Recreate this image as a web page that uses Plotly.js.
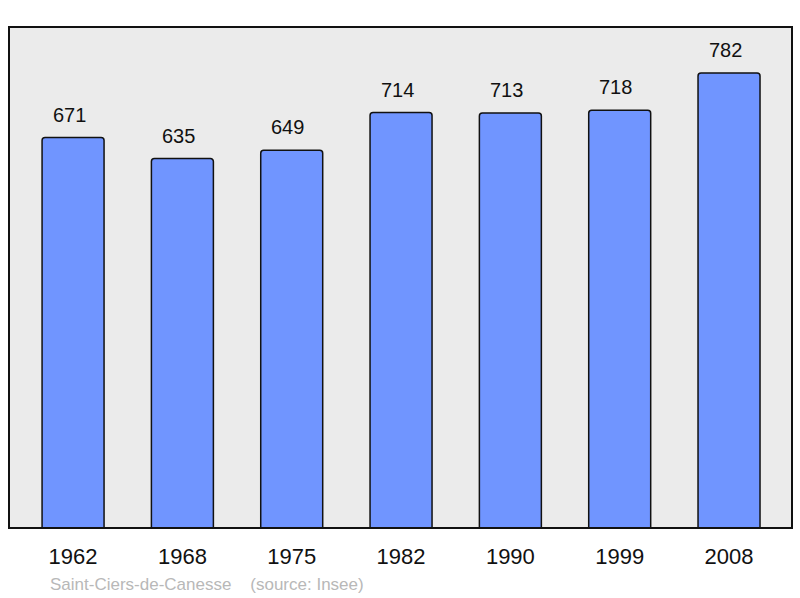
<!DOCTYPE html>
<html><head><meta charset="utf-8">
<script src="https://cdn.plot.ly/plotly-3.0.1.min.js"></script>
<style>html,body{margin:0;padding:0;background:#fff;}#c{width:800px;height:598px;}</style>
</head><body><div id="c"></div>
<script>
const years = ['1962','1968','1975','1982','1990','1999','2008'];
const population = [671, 635, 649, 714, 713, 718, 782];
const footer = 'Saint-Ciers-de-Canesse    (source: Insee)';

const trace = {
  type: 'bar', x: years, y: population, width: 0.567,
  text: population.map(String), textposition: 'none',
  marker: {color: '#7095ff', line: {color: '#111', width: 1.5}, cornerradius: 3},
  hoverinfo: 'none'
};
const annotations = years.map((yr, i) => ({
  x: i, y: population[i], xref: 'x', yref: 'y', text: String(population[i]),
  showarrow: false, yanchor: 'bottom', yshift: 10, xshift: -4,
  font: {family: 'Liberation Sans, Arial, sans-serif', size: 20, color: '#111'}
}));
annotations.push({
  xref: 'paper', yref: 'paper', x: 0.05, y: -0.112, xanchor: 'left', yanchor: 'middle',
  text: footer.replace(/ /g, '&nbsp;'), showarrow: false,
  font: {family: 'Liberation Sans, Arial, sans-serif', size: 17, color: '#b8b8b8'}
});
const layout = {
  width: 800, height: 598,
  margin: {l: 9, r: 8, t: 27, b: 70},
  paper_bgcolor: '#fff', plot_bgcolor: '#ebebeb',
  showlegend: false,
  xaxis: {type: 'category', range: [-0.586, 6.576], showgrid: false, zeroline: false,
    showline: false, ticks: '', ticklabelstandoff: 13,
    tickfont: {family: 'Liberation Sans, Arial, sans-serif', size: 22, color: '#111'}},
  yaxis: {range: [0, 861], showgrid: false, zeroline: false, showticklabels: false, showline: false},
  shapes: [{type: 'rect', xref: 'paper', yref: 'paper', x0: 0, x1: 1, y0: 0, y1: 1,
    line: {color: '#111', width: 2}, fillcolor: 'rgba(0,0,0,0)', layer: 'above'}],
  annotations: annotations
};
Plotly.newPlot('c', [trace], layout, {displayModeBar: false, staticPlot: true});
</script></body></html>
